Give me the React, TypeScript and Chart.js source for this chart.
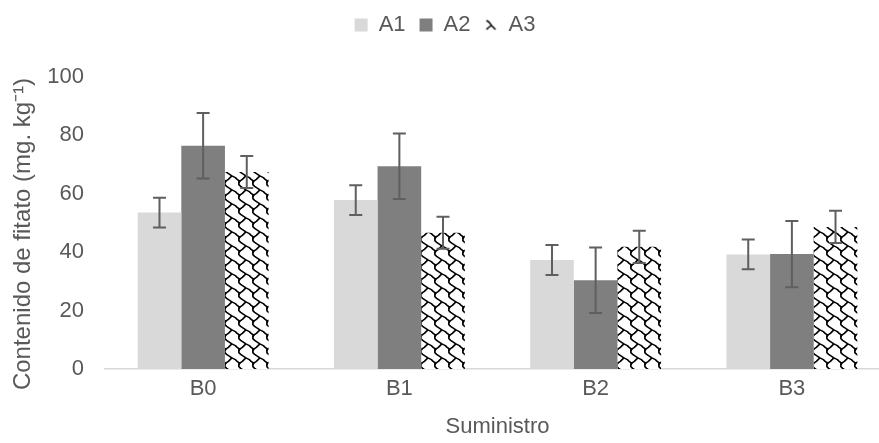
import React, { useEffect, useRef } from 'react';
import { Chart, registerables } from 'chart.js';

Chart.register(...registerables);

const categories = ['B0', 'B1', 'B2', 'B3'];
const seriesNames = ['A1', 'A2', 'A3'];
const a1Values = [53.5, 57.8, 37.3, 39.2];
const a1Errors = [5.1, 5.1, 5.1, 5.1];
const a2Values = [76.4, 69.4, 30.4, 39.3];
const a2Errors = [11.2, 11.2, 11.2, 11.3];
const a3Values = [67.4, 46.6, 41.8, 48.6];
const a3Errors = [5.5, 5.5, 5.5, 5.5];
const yTickValues = [0, 20, 40, 60, 80, 100];
const xTitle = 'Suministro';
const yTitle = 'Contenido de fitato (mg. kg⁻¹)';

const FONT = "'Liberation Sans', Arial, sans-serif";
const TEXT = '#595959';

// shingle motif: polylines in 8x8 bit-cell units
const SHINGLE_LINES: [number, number][][] = [
  [[0.5, -0.5], [0.5, 1.5], [1.5, 2.5], [3, 3.5], [4.5, 4.5]],
  [[4.5, 4.5], [3.5, 5.5], [2.5, 6.5], [1, 7.5], [0.5, 8.5]],
  [[4.5, 4.5], [6.5, 5.5], [7.5, 6.5], [9, 7.5], [8.5, 8.5]],
];
const SCALE = 1.75;

function makePattern(ctx: CanvasRenderingContext2D) {
  const size = Math.round(8 * SCALE);
  const c = document.createElement('canvas');
  c.width = size;
  c.height = size;
  const g = c.getContext('2d')!;
  g.fillStyle = '#ffffff';
  g.fillRect(0, 0, size, size);
  g.strokeStyle = '#000000';
  g.lineWidth = 1.6;
  g.lineJoin = 'round';
  for (const dx of [-size, 0, size]) {
    for (const dy of [-size, 0, size]) {
      SHINGLE_LINES.forEach((pl) => {
        g.beginPath();
        pl.forEach(([x, y], k) => {
          const px = x * SCALE + dx;
          const py = y * SCALE + dy;
          if (k === 0) g.moveTo(px, py);
          else g.lineTo(px, py);
        });
        g.stroke();
      });
    }
  }
  return ctx.createPattern(c, 'repeat')!;
}

function makeLegendIcon() {
  const c = document.createElement('canvas');
  c.width = 13;
  c.height = 13;
  const g = c.getContext('2d')!;
  g.fillStyle = '#ffffff';
  g.fillRect(0, 0, 13, 13);
  g.strokeStyle = '#000000';
  g.lineWidth = 1.5;
  g.beginPath();
  g.moveTo(2, 2);
  g.lineTo(4.5, 3.5);
  g.lineTo(7, 7);
  g.lineTo(11, 11);
  g.moveTo(7, 7);
  g.lineTo(4, 9);
  g.lineTo(2, 11);
  g.stroke();
  return c;
}

const errorBarPlugin = {
  id: 'errorBars',
  afterDatasetsDraw(chart: any) {
    const ctx = chart.ctx;
    const y = chart.scales.y;
    chart.data.datasets.forEach((ds: any, di: number) => {
      const meta = chart.getDatasetMeta(di);
      meta.data.forEach((bar: any, i: number) => {
        const v = ds.data[i];
        const e = ds.errors[i];
        const top = y.getPixelForValue(v + e);
        const bot = y.getPixelForValue(v - e);
        ctx.save();
        ctx.strokeStyle = '#5f5f5f';
        ctx.lineWidth = 2;
        ctx.beginPath();
        ctx.moveTo(bar.x, top);
        ctx.lineTo(bar.x, bot);
        ctx.moveTo(bar.x - 6.5, top);
        ctx.lineTo(bar.x + 6.5, top);
        ctx.moveTo(bar.x - 6.5, bot);
        ctx.lineTo(bar.x + 6.5, bot);
        ctx.stroke();
        ctx.restore();
      });
    });
  },
};

const yTitlePlugin = {
  id: 'yTitle',
  afterDraw(chart: any) {
    const ctx = chart.ctx;
    ctx.save();
    ctx.translate(23, 234);
    ctx.rotate(-Math.PI / 2);
    ctx.fillStyle = TEXT;
    ctx.font = `24px ${FONT}`;
    ctx.textAlign = 'center';
    ctx.textBaseline = 'middle';
    ctx.fillText(yTitle, 0, 0);
    ctx.restore();
  },
};

export default function App() {
  const ref = useRef<HTMLCanvasElement | null>(null);

  useEffect(() => {
    const canvas = ref.current!;
    const ctx = canvas.getContext('2d')!;
    const pattern = makePattern(ctx);
    const icon = makeLegendIcon();
    const chart = new Chart(ctx, {
      type: 'bar',
      data: {
        labels: categories,
        datasets: [
          { label: seriesNames[0], data: a1Values, errors: a1Errors, backgroundColor: '#d9d9d9', borderWidth: 0 } as any,
          { label: seriesNames[1], data: a2Values, errors: a2Errors, backgroundColor: '#7f7f7f', borderWidth: 0 } as any,
          { label: seriesNames[2], data: a3Values, errors: a3Errors, backgroundColor: pattern, borderWidth: 0 } as any,
        ],
      },
      options: {
        animation: false,
        responsive: true,
        maintainAspectRatio: false,
        datasets: {
          bar: { barPercentage: 1, categoryPercentage: 0.667 },
        },
        layout: { padding: { left: 0, right: 0, top: 0, bottom: 0 } },
        plugins: {
          legend: {
            position: 'top',
            labels: {
              boxWidth: 13,
              boxHeight: 13,
              padding: 14,
              usePointStyle: true,
              color: TEXT,
              font: { family: FONT, size: 22 },
              generateLabels(ch: any) {
                return ch.data.datasets.map((ds: any, i: number) => ({
                  text: ds.label,
                  fillStyle: ds.backgroundColor,
                  strokeStyle: ds.backgroundColor,
                  lineWidth: 0,
                  fontColor: TEXT,
                  hidden: false,
                  datasetIndex: i,
                  pointStyle: i === 2 ? icon : 'rect',
                }));
              },
            },
          },
          tooltip: { enabled: false },
        },
        scales: {
          x: {
            grid: { display: false, drawTicks: false },
            border: { display: true, color: '#d9d9d9', width: 1.5 },
            ticks: { color: TEXT, font: { family: FONT, size: 22 }, padding: 7 },
            title: {
              display: true,
              text: xTitle,
              color: TEXT,
              font: { family: FONT, size: 22 },
              padding: { top: 0, bottom: 3 },
            },
            afterFit(scale: any) {
              scale.height = 74;
            },
          },
          y: {
            min: 0,
            max: 110.5,
            grid: { display: false, drawTicks: false },
            border: { display: false },
            afterBuildTicks(scale: any) {
              scale.ticks = yTickValues.map((v) => ({ value: v }));
            },
            ticks: {
              color: TEXT,
              font: { family: FONT, size: 22 },
              padding: 21,
            },
            afterFit(scale: any) {
              scale.width = 105;
            },
          },
        },
      },
      plugins: [errorBarPlugin, yTitlePlugin],
    } as any);
    return () => chart.destroy();
  }, []);

  return (
    <div style={{ position: 'fixed', left: 0, top: 0, width: 879, height: 443, overflow: 'hidden', background: '#fff' }}>
      <div style={{ position: 'relative', width: 890, height: 443 }}>
        <canvas ref={ref} />
      </div>
    </div>
  );
}
